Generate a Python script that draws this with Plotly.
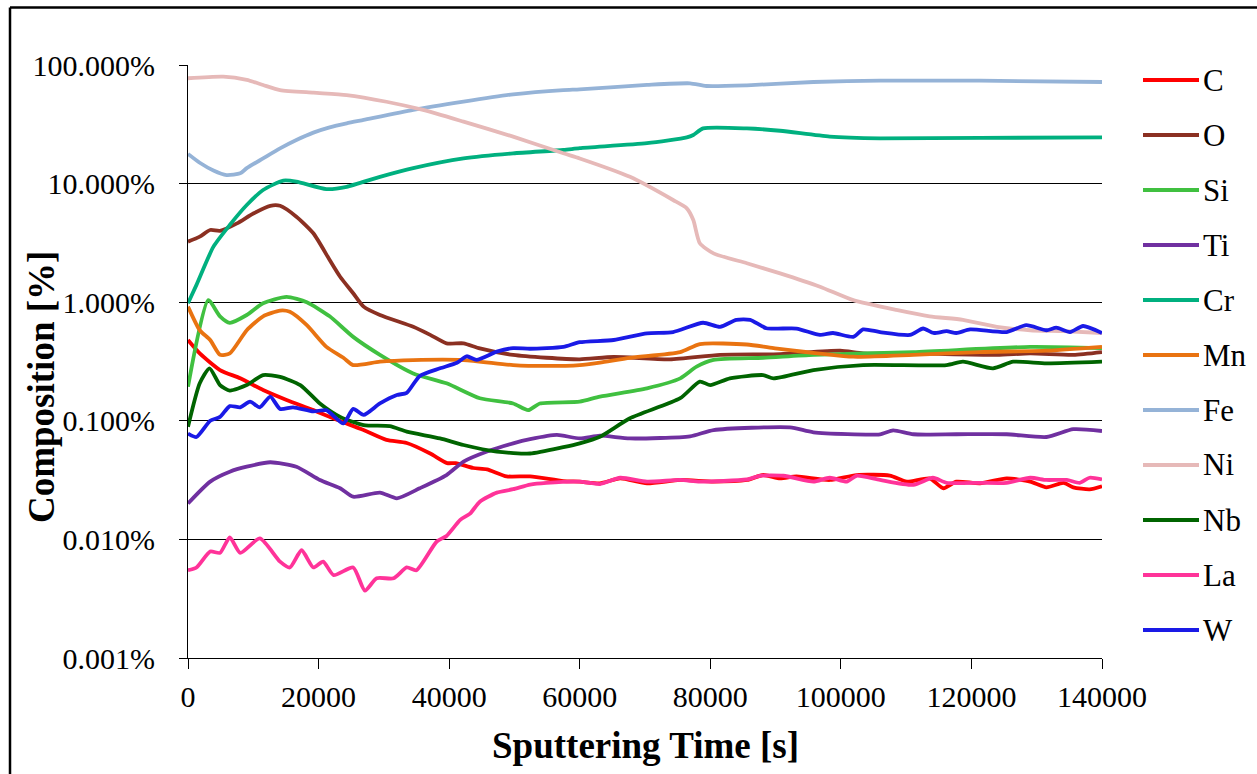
import plotly.graph_objects as go

# Sputtering depth profile: composition (%) versus sputtering time (s)
elements = ["C", "O", "Si", "Ti", "Cr", "Mn", "Fe", "Ni", "Nb", "La", "W"]
colors = ["#FF0000", "#8B3022", "#40C040", "#7030A0", "#00B07F", "#E97311",
          "#95B3D7", "#E6B9B8", "#006400", "#FF3399", "#1A1AE6"]

C_t = [0, 1800, 4900, 8000, 11500, 15100, 19200, 22800, 26800, 30400, 33500, 37100, 39700, 41000,
       43700, 45800, 48800, 52400, 57500, 60000, 63100, 66200, 70300, 75400, 80500, 85600, 88100,
       90700, 93200, 98300, 102400, 107500, 110100, 113600, 115700, 117700, 121300, 125400, 129000,
       131500, 134100, 135600, 138100, 140000]
C_pct = [0.48, 0.37, 0.268, 0.228, 0.182, 0.15, 0.123, 0.102, 0.084, 0.069, 0.065, 0.053, 0.044, 0.044,
         0.040, 0.039, 0.034, 0.034, 0.031, 0.0307, 0.0297, 0.0327, 0.0297, 0.0317, 0.0307, 0.0317, 0.0349,
         0.0327, 0.0340, 0.0317, 0.0349, 0.0345, 0.0307, 0.0327, 0.027, 0.0307, 0.0297, 0.0327, 0.0307,
         0.0275, 0.030, 0.0275, 0.0264, 0.028]

O_t = [0, 1800, 3400, 4900, 7500, 10000, 12600, 14100, 16600, 19200, 21700, 23300, 25300, 26900,
       29400, 34500, 37100, 39600, 42200, 44700, 49800, 54900, 60000, 65200, 73800, 81500, 90700,
       99900, 103400, 111100, 123900, 129000, 135600, 140000]
O_pct = [3.24, 3.57, 4.06, 4.0, 4.62, 5.6, 6.5, 6.5, 5.26, 3.81, 2.27, 1.64, 1.19, 0.917,
         0.78, 0.62, 0.53, 0.45, 0.45, 0.408, 0.359, 0.34, 0.33, 0.345, 0.33, 0.36, 0.365,
         0.39, 0.37, 0.37, 0.36, 0.37, 0.36, 0.38]

Si_t = [0, 3100, 4900, 6400, 9000, 11500, 15100, 18200, 21700, 25300, 29400, 34500, 39600, 44700,
        49800, 52100, 53900, 60000, 63100, 70300, 75400, 77900, 80500, 88100, 95800, 111100, 129000, 140000]
Si_pct = [0.194, 1.04, 0.76, 0.67, 0.78, 0.98, 1.11, 1.0, 0.76, 0.51, 0.36, 0.251, 0.207, 0.155,
          0.14, 0.123, 0.14, 0.145, 0.16, 0.188, 0.228, 0.286, 0.326, 0.34, 0.36, 0.38, 0.42, 0.41]

Ti_t = [0, 3400, 6400, 9000, 12600, 16600, 20200, 23300, 25300, 29400, 32000, 35500, 39600, 42200,
        45800, 49800, 52400, 56500, 60000, 63100, 67700, 76900, 80500, 92200, 95800, 106000, 108000,
        111100, 117700, 125400, 131500, 135600, 140000]
Ti_pct = [0.0201, 0.0307, 0.0372, 0.041, 0.0447, 0.041, 0.0317, 0.027, 0.0229, 0.0248, 0.0222, 0.027,
          0.0349, 0.0452, 0.055, 0.0646, 0.07, 0.076, 0.071, 0.075, 0.071, 0.074, 0.0836, 0.088, 0.08,
          0.077, 0.083, 0.077, 0.077, 0.077, 0.073, 0.085, 0.082]

Cr_t = [0, 1300, 3900, 6400, 9000, 11500, 14600, 16600, 21200, 24300, 29400, 34500, 42200, 49800,
        57500, 60000, 70300, 76400, 77400, 78900, 85600, 90700, 98300, 106000, 121300, 140000]
Cr_pct = [0.98, 1.4, 2.94, 4.48, 6.6, 8.83, 10.6, 10.4, 9.0, 9.4, 11.4, 13.5, 16.3, 18.0,
          19.2, 19.9, 21.9, 24.5, 25.7, 29.2, 29.2, 27.9, 24.9, 24.1, 24.3, 24.5]

Mn_t = [0, 1800, 3400, 4900, 6400, 9000, 11500, 14100, 15600, 18200, 21200, 23800, 25300, 29400,
        34500, 42200, 49800, 54900, 60000, 63100, 67700, 75400, 78400, 85600, 89700, 101900, 111100,
        121300, 131500, 140000]
Mn_pct = [0.917, 0.58, 0.48, 0.36, 0.37, 0.58, 0.76, 0.85, 0.83, 0.64, 0.42, 0.34, 0.295, 0.315,
          0.325, 0.325, 0.295, 0.29, 0.295, 0.31, 0.34, 0.38, 0.444, 0.44, 0.41, 0.347, 0.36,
          0.38, 0.39, 0.42]

Fe_t = [0, 1800, 3900, 5900, 8000, 9000, 11500, 14100, 16600, 19200, 21700, 24300, 26900, 34500,
        42200, 49800, 57500, 60000, 70300, 76900, 79400, 85600, 95800, 106000, 121300, 140000]
Fe_pct = [17.8, 15.0, 12.9, 11.8, 12.2, 13.5, 16.3, 19.8, 23.3, 26.9, 29.8, 32.2, 34.4, 41.8,
          49.1, 56.6, 61.5, 62.4, 67.9, 70.1, 66.5, 67.4, 71.9, 73.7, 73.7, 71.9]

Ni_t = [0, 5400, 9000, 11500, 14100, 19200, 24300, 30400, 36000, 42200, 49800, 57500, 60000, 67700,
        74300, 76400, 77400, 78400, 80500, 85600, 90700, 96800, 101900, 108500, 113600, 118700,
        123900, 129000, 134100, 140000]
Ni_pct = [77.3, 79.7, 74.8, 67.8, 61.5, 58.4, 55.8, 49.0, 41.8, 33.3, 24.9, 18.0, 16.3, 11.4,
          7.27, 6.19, 4.93, 3.14, 2.58, 2.13, 1.75, 1.35, 1.04, 0.86, 0.76, 0.71,
          0.62, 0.58, 0.57, 0.55]

Nb_t = [0, 1800, 3300, 4900, 6400, 9000, 11500, 14100, 17200, 20200, 23300, 26900, 30900, 33500,
        38600, 42200, 47300, 52400, 57500, 60000, 63100, 67700, 75400, 78400, 80000, 83000, 88100,
        89700, 95800, 103400, 116200, 118700, 123300, 126400, 131500, 140000]
Nb_pct = [0.089, 0.207, 0.277, 0.2, 0.18, 0.2, 0.243, 0.235, 0.2, 0.14, 0.108, 0.092, 0.090, 0.081,
          0.071, 0.0625, 0.055, 0.053, 0.06, 0.0646, 0.0734, 0.105, 0.155, 0.214, 0.2, 0.228, 0.243,
          0.228, 0.268, 0.295, 0.295, 0.315, 0.277, 0.315, 0.305, 0.315]

La_t = [0, 1300, 3400, 4900, 6400, 8000, 11000, 14100, 15600, 17400, 19200, 20700, 22300, 25300,
        27100, 28900, 31500, 33500, 35000, 38100, 39600, 41700, 43200, 44700, 47300, 49800, 52400,
        54900, 60000, 63100, 66200, 70300, 75400, 78400, 85600, 87600, 91200, 95800, 98300, 100900,
        102400, 106000, 111100, 114100, 116200, 121300, 125400, 129000, 131500, 134600, 136600,
        138100, 140000]
La_pct = [0.0055, 0.0058, 0.0079, 0.0077, 0.0104, 0.0077, 0.0102, 0.0065, 0.0058, 0.0081, 0.0058,
          0.0065, 0.0050, 0.0058, 0.0037, 0.0047, 0.0047, 0.0058, 0.0055, 0.0096, 0.0107, 0.0146,
          0.0165, 0.0208, 0.0248, 0.0265, 0.029, 0.030, 0.0307, 0.0293, 0.0331, 0.0307, 0.0317,
          0.0307, 0.0320, 0.0344, 0.0344, 0.0307, 0.0331, 0.0307, 0.0344, 0.0317, 0.0288, 0.0331,
          0.0300, 0.0300, 0.0300, 0.0331, 0.0317, 0.0317, 0.0300, 0.0331, 0.032]

W_t = [0, 1300, 3400, 4900, 6400, 8000, 9500, 11000, 12600, 14100, 16100, 19200, 21200, 23800,
       25300, 26900, 29400, 32000, 33500, 35500, 38600, 41200, 42700, 44200, 47300, 49800, 52400,
       57500, 60000, 65200, 70300, 74300, 78900, 81500, 84000, 86100, 88600, 93200, 96800, 98800,
       101900, 103400, 106000, 110600, 112600, 114200, 116200, 117700, 119800, 125400, 128400,
       131500, 133000, 135100, 137100, 140000]
W_pct = [0.078, 0.073, 0.1, 0.108, 0.133, 0.13, 0.145, 0.13, 0.16, 0.126, 0.13, 0.12, 0.123, 0.095,
         0.126, 0.112, 0.14, 0.165, 0.172, 0.239, 0.277, 0.309, 0.35, 0.326, 0.383, 0.41, 0.405,
         0.42, 0.46, 0.48, 0.547, 0.56, 0.671, 0.62, 0.71, 0.71, 0.603, 0.60, 0.53, 0.55,
         0.51, 0.59, 0.56, 0.53, 0.6, 0.55, 0.57, 0.55, 0.59, 0.56, 0.64,
         0.58, 0.61, 0.56, 0.63, 0.55]

series_t = [C_t, O_t, Si_t, Ti_t, Cr_t, Mn_t, Fe_t, Ni_t, Nb_t, La_t, W_t]
series_pct = [C_pct, O_pct, Si_pct, Ti_pct, Cr_pct, Mn_pct, Fe_pct, Ni_pct, Nb_pct, La_pct, W_pct]

y_ticks = [0.001, 0.01, 0.1, 1, 10, 100]
y_ticktext = ["0.001%", "0.010%", "0.100%", "1.000%", "10.000%", "100.000%"]
x_ticks = [0, 20000, 40000, 60000, 80000, 100000, 120000, 140000]

SERIF = "Liberation Serif"

# plot-area geometry in pixels
W_PX, H_PX = 1257, 774
L, R, T, B = 188, 155, 65, 116
PW, PH = W_PX - L - R, H_PX - T - B


def px_x(p):
    return (p - L) / PW


def px_y(p):
    return (H_PX - B - p) / PH


fig = go.Figure()
for name, col, t, v in zip(elements, colors, series_t, series_pct):
    fig.add_trace(go.Scatter(x=t, y=v, mode="lines", name=name,
                             line=dict(color=col, width=3.8, shape="spline", smoothing=0.6),
                             showlegend=False))

shapes = []
annotations = []

# legend drawn as line samples with labels
for i, (name, col) in enumerate(zip(elements, colors)):
    yc = px_y(80 + 55 * i)
    shapes.append(dict(type="line", xref="paper", yref="paper",
                       x0=px_x(1143), x1=px_x(1199), y0=yc, y1=yc,
                       line=dict(color=col, width=4)))
    annotations.append(dict(text=name, xref="paper", yref="paper", x=px_x(1201), y=yc,
                            xanchor="left", yanchor="middle", showarrow=False,
                            font=dict(family=SERIF, size=31, color="black")))

# axis titles
annotations.append(dict(text="Composition [%]", xref="paper", yref="paper",
                        x=px_x(41), y=px_y(387), textangle=-90, showarrow=False,
                        xanchor="center", yanchor="middle",
                        font=dict(family=SERIF, size=37, color="black", weight="bold")))
annotations.append(dict(text="Sputtering Time [s]", xref="paper", yref="paper",
                        x=px_x(645), y=px_y(745), showarrow=False,
                        xanchor="center", yanchor="middle",
                        font=dict(family=SERIF, size=37, color="black", weight="bold")))

# chart frame (left and top edges)
shapes.append(dict(type="line", xref="paper", yref="paper",
                   x0=px_x(10), x1=px_x(10), y0=px_y(800), y1=px_y(7.5),
                   line=dict(color="black", width=2.5)))
shapes.append(dict(type="line", xref="paper", yref="paper",
                   x0=px_x(10), x1=px_x(1300), y0=px_y(7.5), y1=px_y(7.5),
                   line=dict(color="black", width=2.5)))

fig.update_layout(
    width=W_PX, height=H_PX,
    margin=dict(l=L, r=R, t=T, b=B, autoexpand=False),
    paper_bgcolor="white", plot_bgcolor="white",
    shapes=shapes, annotations=annotations,
    showlegend=False,
    font=dict(family=SERIF, size=30, color="black"),
)
fig.update_xaxes(range=[0, 140000], tickvals=x_ticks, ticktext=[str(v) for v in x_ticks],
                 showgrid=False, zeroline=False, showline=True, linecolor="black", linewidth=1,
                 ticks="outside", ticklen=10, tickcolor="black", tickwidth=1,
                 ticklabelstandoff=2, tickfont=dict(family=SERIF, size=30, color="black"))
fig.update_yaxes(type="log", range=[-3, 2], tickvals=y_ticks, ticktext=y_ticktext,
                 showgrid=True, gridcolor="black", gridwidth=1, zeroline=False,
                 showline=True, linecolor="black", linewidth=1,
                 ticks="outside", ticklen=8, tickcolor="black", tickwidth=1,
                 ticklabelstandoff=18, tickfont=dict(family=SERIF, size=30, color="black"))

fig.write_html("out.html")
